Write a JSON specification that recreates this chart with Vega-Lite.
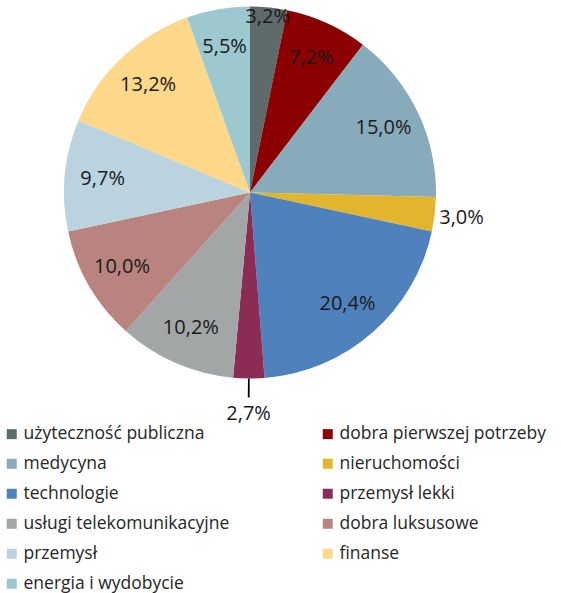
{
  "$schema": "https://vega.github.io/schema/vega-lite/v6.json",
  "width": 500,
  "height": 385,
  "padding": 0,
  "background": "white",
  "config": {"view": {"stroke": null}, "font": "Open Sans"},
  "data": {
    "values": [
      {"sektor": "użyteczność publiczna", "v": 3.2, "label": "3,2%"},
      {"sektor": "dobra pierwszej potrzeby", "v": 7.2, "label": "7,2%"},
      {"sektor": "medycyna", "v": 15.0, "label": "15,0%"},
      {"sektor": "nieruchomości", "v": 3.0, "label": "3,0%"},
      {"sektor": "technologie", "v": 20.4, "label": "20,4%"},
      {"sektor": "przemysł lekki", "v": 2.7, "label": "2,7%"},
      {"sektor": "usługi telekomunikacyjne", "v": 10.2, "label": "10,2%"},
      {"sektor": "dobra luksusowe", "v": 10.0, "label": "10,0%"},
      {"sektor": "przemysł", "v": 9.7, "label": "9,7%"},
      {"sektor": "finanse", "v": 13.2, "label": "13,2%"},
      {"sektor": "energia i wydobycie", "v": 5.5, "label": "5,5%"}
    ]
  },
  "transform": [
    {"window": [{"op": "row_number", "as": "i"}, {"op": "sum", "field": "v", "as": "cum"}], "frame": [null, 0]},
    {"joinaggregate": [{"op": "sum", "field": "v", "as": "total"}]},
    {"calculate": "(datum.cum - datum.v/2)/datum.total*2*PI", "as": "mid"}
  ],
  "layer": [
    {
      "mark": {"type": "arc", "radius": 186},
      "encoding": {
        "theta": {"field": "v", "type": "quantitative", "stack": true},
        "order": {"field": "i", "type": "quantitative"},
        "color": {
          "field": "sektor",
          "type": "nominal",
          "sort": null,
          "scale": {
            "domain": ["użyteczność publiczna", "dobra pierwszej potrzeby", "medycyna", "nieruchomości", "technologie", "przemysł lekki", "usługi telekomunikacyjne", "dobra luksusowe", "przemysł", "finanse", "energia i wydobycie"],
            "range": ["#5f6a6b", "#8b0000", "#88abbb", "#e3b52e", "#4f81bd", "#8b2c57", "#a3a6a7", "#b9837f", "#bbd3de", "#fdd88b", "#9dc8d0"]
          },
          "legend": {
            "title": null,
            "orient": "none",
            "legendX": 3,
            "legendY": 425,
            "columns": 2,
            "direction": "horizontal",
            "padding": 0,
            "symbolType": "square",
            "symbolSize": 100,
            "symbolStrokeWidth": 0,
            "labelFont": "Open Sans",
            "labelFontSize": 17.5,
            "labelColor": "#262626",
            "labelOffset": 3,
            "labelLimit": 400,
            "rowPadding": 11,
            "columnPadding": 89
          }
        }
      }
    },
    {
      "transform": [{"filter": "datum.v == 2.7"}, {"calculate": "datum.mid - 0.0045", "as": "a0"}, {"calculate": "datum.mid + 0.0045", "as": "a1"}],
      "mark": {"type": "arc", "radius": 186, "radius2": 205, "color": "black"},
      "encoding": {
        "theta": {"field": "a0", "type": "quantitative", "scale": null, "stack": null},
        "theta2": {"field": "a1"}
      }
    },
    {
      "transform": [{"filter": "datum.v > 3.2"}],
      "mark": {"type": "text", "font": "Open Sans", "fontSize": 20, "color": "#1a1a1a", "align": "center", "baseline": "middle", "radius": 148},
      "encoding": {
        "theta": {"field": "mid", "type": "quantitative", "scale": null, "stack": null},
        "text": {"field": "label"}
      }
    },
    {
      "transform": [{"filter": "datum.v == 3.2"}],
      "mark": {"type": "text", "font": "Open Sans", "fontSize": 20, "color": "#1a1a1a", "align": "center", "baseline": "middle", "radius": 176},
      "encoding": {
        "theta": {"field": "mid", "type": "quantitative", "scale": null, "stack": null},
        "text": {"field": "label"}
      }
    },
    {
      "transform": [{"filter": "datum.v == 3.0"}],
      "mark": {"type": "text", "font": "Open Sans", "fontSize": 20, "color": "#1a1a1a", "align": "center", "baseline": "middle", "radius": 213},
      "encoding": {
        "theta": {"field": "mid", "type": "quantitative", "scale": null, "stack": null},
        "text": {"field": "label"}
      }
    },
    {
      "transform": [{"filter": "datum.v == 2.7"}],
      "mark": {"type": "text", "font": "Open Sans", "fontSize": 20, "color": "#1a1a1a", "align": "center", "baseline": "middle", "radius": 222},
      "encoding": {
        "theta": {"field": "mid", "type": "quantitative", "scale": null, "stack": null},
        "text": {"field": "label"}
      }
    }
  ]
}
